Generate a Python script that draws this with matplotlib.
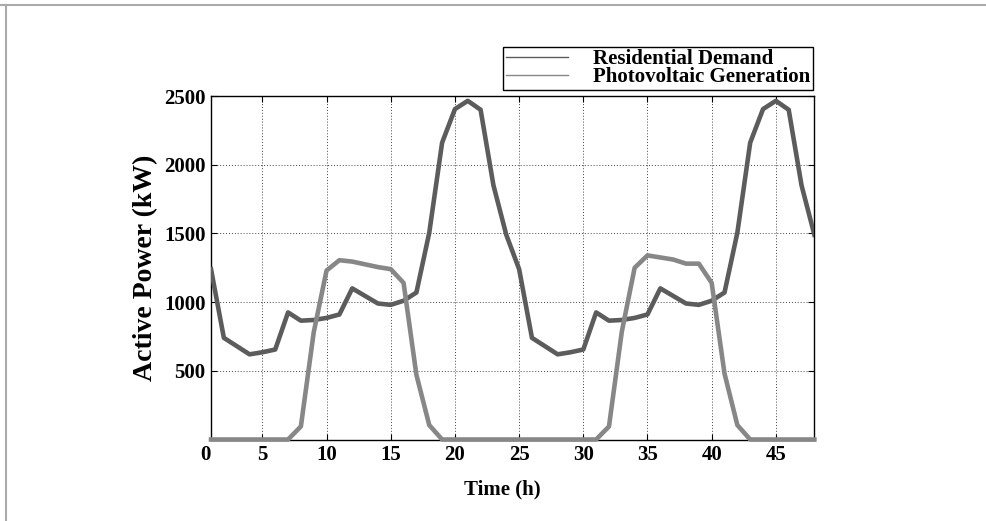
import numpy as np
import matplotlib
matplotlib.use('Agg')
from matplotlib import pyplot as plt
from matplotlib.lines import Line2D

# hourly values, two days (t = 1..48)
hours = list(range(1, 49))
demand_day = [1240, 740, 680, 620, 635, 655, 925, 865, 870, 885, 910, 1100,
              1045, 990, 980, 1010, 1070, 1505, 2160, 2405, 2465, 2400, 1850, 1490]
demand = demand_day + demand_day
pv = [0, 0, 0, 0, 0, 0, 0, 95, 780, 1230, 1305, 1295,
      1275, 1255, 1240, 1140, 470, 105, 0, 0, 0, 0, 0, 0,
      0, 0, 0, 0, 0, 0, 0, 95, 785, 1250, 1340, 1325,
      1310, 1280, 1280, 1140, 480, 105, 0, 0, 0, 0, 0, 0]
x_ticks = [5, 10, 15, 20, 25, 30, 35, 40, 45]
y_ticks = [500, 1000, 1500, 2000, 2500]
labels = ['Residential Demand', 'Photovoltaic Generation']

DEMAND_COLOR = '#5c5c5c'
PV_COLOR = '#878787'
FS = 15

plt.rcParams['font.family'] = ['Liberation Serif', 'DejaVu Serif']
plt.rcParams['font.weight'] = 'bold'

fig = plt.figure(figsize=(9.87, 5.21), dpi=100)

# light frame around the picture (top and left edges only)
fig.add_artist(Line2D([0.0, 1.0], [0.990, 0.990], color='#aaaaaa', lw=1.5))
fig.add_artist(Line2D([0.006, 0.006], [0.0, 0.990], color='#aaaaaa', lw=1.5))

ax = fig.add_axes([0.2138, 0.1564, 0.6113, 0.6593])
ax.plot(hours, demand, color=DEMAND_COLOR, lw=3.3, zorder=3)
ax.plot(hours, pv, color=PV_COLOR, lw=3.3, zorder=3, clip_on=False)

ax.set_xlim(1, 48)
ax.set_ylim(0, 2500)
ax.set_xticks(x_ticks)
ax.set_yticks(y_ticks)
ax.grid(True, color='#444444', ls=(0, (1, 2)), lw=0.7)
ax.tick_params(direction='in', top=True, right=True, length=4, width=0.8,
               labelsize=FS, pad=4)
for s in ax.spines.values():
    s.set_linewidth(1.0)
    s.set_color('black')

# the "0" label sits just left of the axis start
ax.text(0.54, -0.016, '0', transform=ax.get_xaxis_transform(), ha='center', va='top',
        fontsize=FS, fontweight='bold')

ax.set_xlabel('Time (h)', fontsize=FS, fontweight='bold')
ax.xaxis.set_label_coords(0.482, -0.115)
ax.set_ylabel('Active Power (kW)', fontsize=20, fontweight='bold')
ax.yaxis.set_label_coords(-0.088, 0.5)

handles = [Line2D([], [], color=DEMAND_COLOR, lw=1.0),
           Line2D([], [], color=PV_COLOR, lw=1.0)]
leg = fig.legend(handles, labels, loc='lower right',
                 bbox_to_anchor=(813 / 987, (521 - 90) / 521),
                 prop={'family': 'Liberation Serif', 'weight': 'bold', 'size': FS},
                 frameon=True, fancybox=False, edgecolor='black', framealpha=1,
                 handlelength=3.0, handletextpad=1.2, labelspacing=-0.08,
                 borderpad=0.12, borderaxespad=0)
leg.get_frame().set_linewidth(1.0)

plt.savefig('out.png', dpi=100)
